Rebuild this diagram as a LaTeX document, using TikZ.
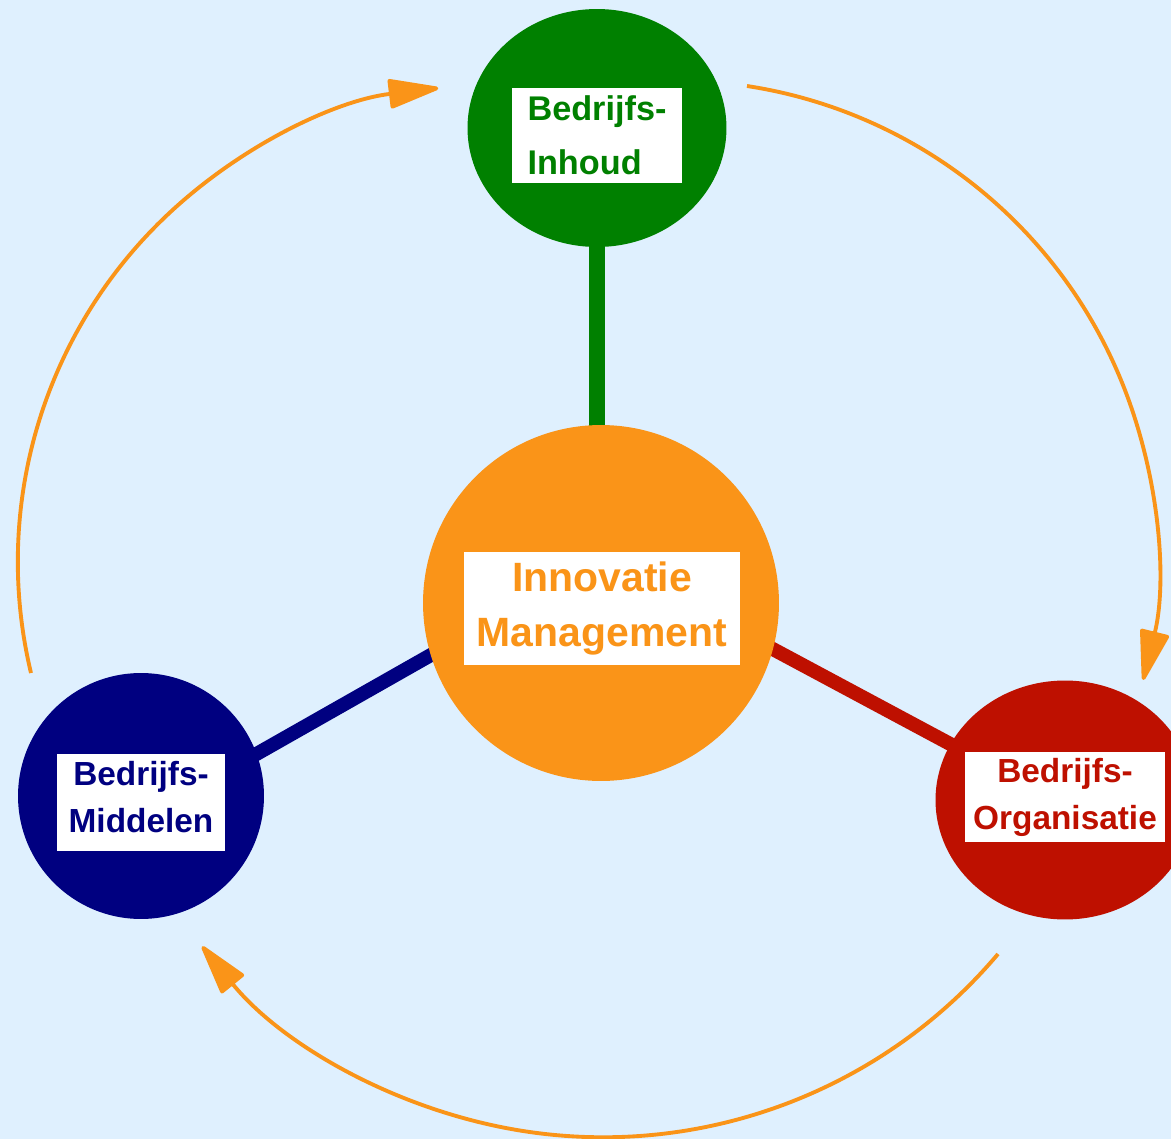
\documentclass[tikz,border=0pt]{standalone}
\usepackage{fontspec}
\setmainfont{Liberation Sans}
\usepackage{tikz}
\usetikzlibrary{arrows.meta}
\usetikzlibrary{shapes.geometric}
\usetikzlibrary{positioning}
\definecolor{skyback}{RGB}{223,240,254}
\definecolor{inhoudgreen}{RGB}{0,128,0}
\definecolor{middelblue}{RGB}{0,0,128}
\definecolor{orgred}{RGB}{190,16,0}
\definecolor{innoorange}{RGB}{250,148,24}
\pgfdeclarelayer{backdrop}
\pgfdeclarelayer{spokes}
\pgfsetlayers{backdrop,spokes,main}
\tikzstyle{themecircle} = [ellipse, inner sep=0pt, outer sep=0pt]
\tikzstyle{labelbox} = [rectangle, fill=white, inner sep=0pt, align=center, font=\bfseries\fontsize{19}{26.7}\selectfont]
\tikzstyle{spoke} = [line width=0.28cm, shorten <=-0.3cm, shorten >=-0.3cm]
\tikzstyle{cyclearrow} = [line width=2.2pt, draw=innoorange, -{Triangle[length=1.1cm, width=0.6cm, round]}]

\begin{document}
\begin{tikzpicture}[x=0.02cm, y=0.02cm]
                        \useasboundingbox (0,0) rectangle (1171,-1139);
                        \begin{pgfonlayer}{backdrop}
                        \fill[skyback] (0,0) rectangle (1171,-1139);
                        \end{pgfonlayer}
                        \node (innovatie) [themecircle, fill=innoorange, minimum size=7.12cm] at (601,-603) {};
                        \node (inhoud) [themecircle, fill=inhoudgreen, minimum width=5.18cm, minimum height=4.76cm] at (597,-128) {};
                        \node (middelen) [themecircle, fill=middelblue, minimum size=4.92cm] at (141,-796) {};
                        \node (organisatie) [themecircle, fill=orgred, minimum width=5.18cm, minimum height=4.78cm] at (1065,-800) {};
                        \node (innovatietext) [labelbox, text=innoorange, minimum width=5.52cm, minimum height=2.26cm, font=\bfseries\fontsize{23.3}{31.3}\selectfont] at (602,-608.5) {Innovatie\\Management};
                        \node (inhoudtext) [labelbox, text=inhoudgreen, align=left, minimum width=3.4cm, minimum height=1.9cm, font=\bfseries\fontsize{19.5}{30.7}\selectfont] at (597,-135.5) {Bedrijfs-\\Inhoud};
                        \node (middelentext) [labelbox, text=middelblue, minimum width=3.36cm, minimum height=1.94cm, text depth=0.22cm] at (141,-802.5) {Bedrijfs-\\Middelen};
                        \node (organisatietext) [labelbox, text=orgred, minimum width=4cm, minimum height=1.8cm] at (1065,-797) {Bedrijfs-\\Organisatie};
                        \begin{pgfonlayer}{spokes}
                        \draw[spoke, line width=0.32cm, inhoudgreen] (inhoud.south) -- (inhoud.south |- innovatie.north);
                        \draw[spoke, middelblue] (innovatie.197) -- (middelen.20);
                        \draw[spoke, orgred] (innovatie.345) -- (organisatie.154);
                        \end{pgfonlayer}
                        \coordinate (leftstart) at (31,-673);
                        \coordinate (rightstart) at (747,-86);
                        \coordinate (bottomstart) at (998,-954);
                        \draw[cyclearrow] (leftstart) arc[start angle=193.5, end angle=96.8, radius=9.54cm];
                        \draw[cyclearrow] (rightstart) arc[start angle=81.3, end angle=-13.9, radius=9.67cm];
                        \draw[cyclearrow] (bottomstart) arc[start angle=-40.2, end angle=-140.9, radius=10.34cm];
                    \end{tikzpicture}
\end{document}
